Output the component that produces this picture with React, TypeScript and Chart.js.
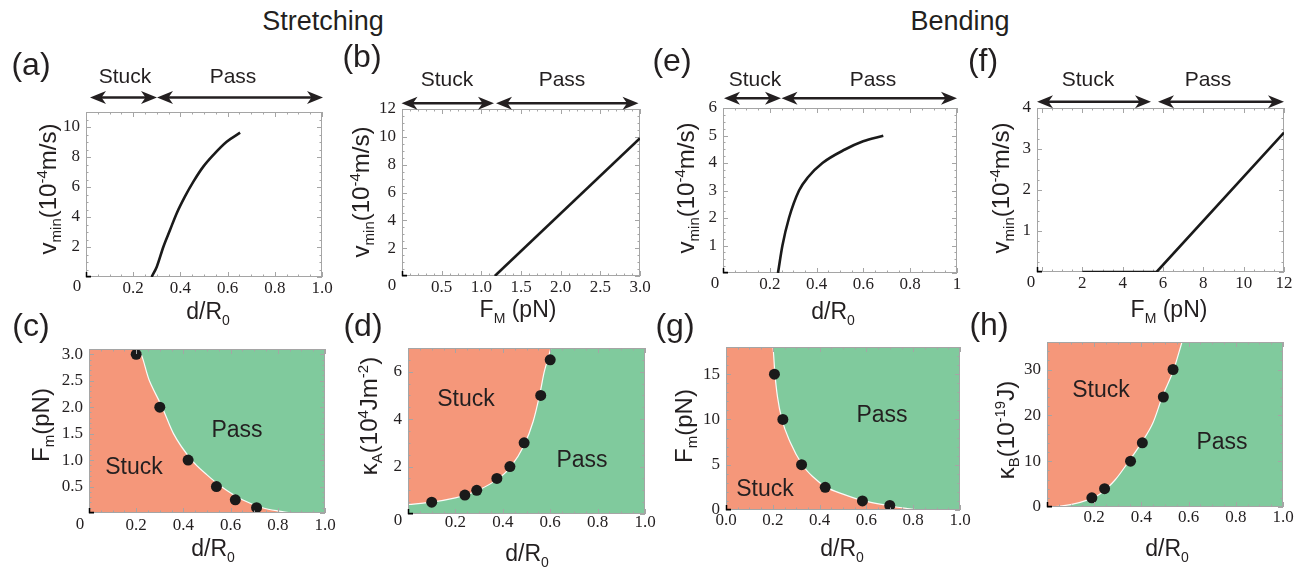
import React, { useEffect, useRef } from "react";
import { Chart, registerables } from "chart.js";
Chart.register(...registerables);

const SALMON = "#F5977A";
const GREEN = "#80CA9D";
const INK = "#231F20";
const FRAME = "#A5A5A5";
const SANS = '"Liberation Sans", Arial, sans-serif';
const SERIF = '"Liberation Serif", "Times New Roman", serif';

// ---------------- data ----------------
// (a) stretching: v_min vs d/R0
const aDist = [0.278, 0.3, 0.328, 0.356, 0.384, 0.419, 0.455, 0.497, 0.539, 0.596, 0.653];
const aVmin = [0, 0.69, 2.02, 3.13, 4.24, 5.36, 6.36, 7.36, 8.13, 9.02, 9.62];
// (b) stretching: v_min vs F_M
const bForce = [1.17, 3.0];
const bVmin = [0, 9.9];
// (e) bending: v_min vs d/R0
const eDist = [0.235, 0.254, 0.282, 0.325, 0.364, 0.425, 0.521, 0.599, 0.685];
const eVmin = [0, 1, 2, 3, 3.49, 4, 4.49, 4.79, 4.99];
// (f) bending: v_min vs F_M
const fForce = [2, 5.68, 12];
const fVmin = [0, 0, 3.4];
// (c) phase diagram F_m vs d/R0
const cDotD = [0.2, 0.3, 0.42, 0.54, 0.62, 0.71];
const cDotF = [3.0, 2.0, 1.0, 0.5, 0.25, 0.1];
const cEdgeD = [0, 0.207, 0.256, 0.31, 0.358, 0.435, 0.5, 0.56, 0.65, 0.735, 0.8, 0.87, 1.0];
const cEdgeF = [3.1, 3.1, 2.5, 2.0, 1.5, 1.0, 0.72, 0.5, 0.25, 0.1, 0.04, 0, 0];
// (d) phase diagram kappa_A vs d/R0
const dDotD = [0.1, 0.24, 0.29, 0.375, 0.43, 0.49, 0.56, 0.6];
const dDotK = [0.5, 0.8, 1.0, 1.5, 2.0, 3.0, 5.0, 6.5];
const dEdgeD = [0, 0.1, 0.2, 0.25, 0.3, 0.375, 0.43, 0.49, 0.528, 0.555, 0.575, 0.589, 0.603];
const dEdgeK = [0.4, 0.5, 0.68, 0.82, 1.02, 1.45, 1.95, 2.9, 3.9, 5.0, 6.0, 6.5, 7.0];
// (g) phase diagram F_m vs d/R0 (bending)
const gDotD = [0.207, 0.243, 0.323, 0.424, 0.583, 0.7];
const gDotF = [15, 10, 5, 2.5, 1.0, 0.5];
const gEdgeD = [0, 0.2, 0.209, 0.22, 0.239, 0.274, 0.326, 0.37, 0.43, 0.5, 0.59, 0.69, 0.77, 0.84, 1.0];
const gEdgeF = [18, 18, 15, 12.5, 10, 7.5, 5, 3.7, 2.5, 1.75, 1.0, 0.5, 0.18, 0, 0];
// (h) phase diagram kappa_B vs d/R0
const hDotD = [0.19, 0.244, 0.354, 0.404, 0.493, 0.534];
const hDotK = [2, 4, 10, 14, 24, 30];
const hEdgeD = [0, 0.05, 0.1, 0.17, 0.226, 0.29, 0.347, 0.4, 0.45, 0.488, 0.537, 0.572];
const hEdgeK = [0, 0.15, 0.5, 1.5, 2.9, 6.0, 10, 14, 18.5, 24, 30, 36];

// tick labels
const dTicks = [0.2, 0.4, 0.6, 0.8, 1.0];
const dTickLabels = ["0.2", "0.4", "0.6", "0.8", "1.0"];
const eTickLabels = ["0.2", "0.4", "0.6", "0.8", "1"];
const gXTicks = [0, 0.2, 0.4, 0.6, 0.8, 1.0];
const gXTickLabels = ["0.0", "0.2", "0.4", "0.6", "0.8", "1.0"];
const bXTicks = [0.5, 1.0, 1.5, 2.0, 2.5, 3.0];
const bXTickLabels = ["0.5", "1.0", "1.5", "2.0", "2.5", "3.0"];
const fXTicks = [2, 4, 6, 8, 10, 12];
const aYTicks = [2, 4, 6, 8, 10];
const bYTicks = [2, 4, 6, 8, 10, 12];
const eYTicks = [1, 2, 3, 4, 5, 6];
const fYTicks = [1, 2, 3, 4];
const cYTicks = [0.5, 1.0, 1.5, 2.0, 2.5, 3.0];
const cYTickLabels = ["0.5", "1.0", "1.5", "2.0", "2.5", "3.0"];
const dYTicks = [2, 4, 6];
const gYTicks = [0, 5, 10, 15];
const hYTicks = [0, 10, 20, 30];

// ---------------- helpers ----------------
type Pt = { x: number; y: number };
const zip = (xs: number[], ys: number[]): Pt[] => xs.map((x, i) => ({ x, y: ys[i] }));
type Rich = [string, "n" | "b" | "p"][];

const curve = (xs: number[], ys: number[], straight = false) => ({
  data: zip(xs, ys),
  borderColor: "#1A1A1A",
  borderWidth: 2.6,
  pointRadius: 0,
  fill: false,
  tension: 0,
  cubicInterpolationMode: straight ? "default" : "monotone",
  order: 1,
});
const dots = (xs: number[], ys: number[]) => ({
  data: zip(xs, ys),
  showLine: false,
  pointRadius: 5.5,
  pointBackgroundColor: "#1A1A1A",
  pointBorderWidth: 0,
  pointBorderColor: "#1A1A1A",
  order: 0,
});
const region = (xs: number[], ys: number[], fill: string) => ({
  data: zip(xs, ys),
  borderColor: "rgba(255,255,255,0.95)",
  borderWidth: 1.2,
  pointRadius: 0,
  fill,
  backgroundColor: SALMON,
  cubicInterpolationMode: "monotone",
  order: 2,
});

interface Arrows {
  y: number;
  stuck: [number, number];
  pass: [number, number];
  stuckText: [number, number];
  passText: [number, number];
}
interface Panel {
  id: string;
  box: [number, number, number, number];
  xRange: [number, number];
  yRange: [number, number];
  xTicks: number[];
  xLabels: string[];
  yTicks: number[];
  yLabels: string[];
  xStep: [number, number];
  yStep: [number, number];
  origin: [number, number] | null;
  letter: [string, number, number];
  xTitle: [Rich, number, number];
  yTitle: [Rich, number, number];
  arrows?: Arrows;
  regions?: { stuck: [number, number]; pass: [number, number] };
  bg?: string;
  tickPad: number;
  datasets: any[];
}

const dR: Rich = [["d/R", "n"], ["0", "b"]];
const vminTitle: Rich = [["v", "n"], ["min", "b"], ["(10", "n"], ["-4", "p"], ["m/s)", "n"]];
const fMTitle: Rich = [["F", "n"], ["M", "b"], [" (pN)", "n"]];
const fmTitle: Rich = [["F", "n"], ["m", "b"], ["(pN)", "n"]];
const kATitle: Rich = [["\u03BA", "n"], ["A", "b"], ["(10", "n"], ["4", "p"], ["Jm", "n"], ["-2", "p"], [")", "n"]];
const kBTitle: Rich = [["\u03BA", "n"], ["B", "b"], ["(10", "n"], ["-19", "p"], ["J)", "n"]];

const PANELS: Panel[] = [
  {
    id: "a", box: [86, 112, 322, 277], xRange: [0, 1], yRange: [0, 11],
    xTicks: dTicks, xLabels: dTickLabels, yTicks: aYTicks, yLabels: aYTicks.map(String),
    xStep: [0.2, 0.05], yStep: [2, 0.5], origin: [77, 287], letter: ["(a)", 31, 66],
    xTitle: [dR, 208, 311], yTitle: [vminTitle, 47, 189],
    arrows: { y: 97.5, stuck: [90, 157], pass: [157, 323], stuckText: [125, 77], passText: [233, 77] },
    tickPad: 1,
    datasets: [curve(aDist, aVmin)],
  },
  {
    id: "b", box: [402, 109, 640, 276], xRange: [0, 3], yRange: [0, 12],
    xTicks: bXTicks, xLabels: bXTickLabels, yTicks: bYTicks, yLabels: bYTicks.map(String),
    xStep: [0.5, 0.1], yStep: [2, 0.5], origin: [392, 286], letter: ["(b)", 362, 58],
    xTitle: [fMTitle, 518, 309], yTitle: [vminTitle, 360, 192],
    arrows: { y: 103.3, stuck: [401.5, 494], pass: [496, 638.5], stuckText: [447, 80], passText: [562, 80] },
    tickPad: 1,
    datasets: [curve(bForce, bVmin, true)],
  },
  {
    id: "e", box: [723, 108, 957, 273], xRange: [0, 1], yRange: [0, 6],
    xTicks: dTicks, xLabels: eTickLabels, yTicks: eYTicks, yLabels: eYTicks.map(String),
    xStep: [0.2, 0.05], yStep: [1, 0.25], origin: [715, 284], letter: ["(e)", 672, 62],
    xTitle: [dR, 833, 311], yTitle: [vminTitle, 685, 188],
    arrows: { y: 98.3, stuck: [724, 781], pass: [781.5, 957], stuckText: [755, 80], passText: [873, 80] },
    tickPad: 1,
    datasets: [curve(eDist, eVmin)],
  },
  {
    id: "f", box: [1037, 108, 1284, 272], xRange: [-0.25, 12], yRange: [0, 4],
    xTicks: fXTicks, xLabels: fXTicks.map(String), yTicks: fYTicks, yLabels: fYTicks.map(String),
    xStep: [2, 0.5], yStep: [1, 0.25], origin: [1031, 283], letter: ["(f)", 983, 62],
    xTitle: [fMTitle, 1169, 309], yTitle: [vminTitle, 1000, 188],
    arrows: { y: 101.7, stuck: [1037, 1151], pass: [1158, 1284], stuckText: [1088, 80], passText: [1208, 80] },
    tickPad: 1,
    datasets: [curve(fForce, fVmin, true)],
  },
  {
    id: "c", box: [89, 349, 325, 513], xRange: [0, 1], yRange: [0, 3.1],
    xTicks: dTicks, xLabels: dTickLabels, yTicks: cYTicks, yLabels: cYTickLabels,
    xStep: [0.2, 0.05], yStep: [0.5, 0.1], origin: [80, 525], letter: ["(c)", 31, 327],
    xTitle: [dR, 213, 548], yTitle: [fmTitle, 40, 425],
    regions: { stuck: [134, 468], pass: [237, 431] }, bg: GREEN,
    tickPad: 2,
    datasets: [dots(cDotD, cDotF), region(cEdgeD, cEdgeF, "start")],
  },
  {
    id: "d", box: [408, 348, 645, 514], xRange: [0, 1], yRange: [0, 7],
    xTicks: dTicks, xLabels: dTickLabels, yTicks: dYTicks, yLabels: dYTicks.map(String),
    xStep: [0.2, 0.05], yStep: [2, 0.5], origin: [398, 521], letter: ["(d)", 363, 327],
    xTitle: [dR, 527, 553], yTitle: [kATitle, 368, 416],
    regions: { stuck: [466, 400], pass: [582, 461] }, bg: GREEN,
    tickPad: -2,
    datasets: [dots(dDotD, dDotK), region(dEdgeD, dEdgeK, "end")],
  },
  {
    id: "g", box: [726, 347, 960, 510], xRange: [0, 1], yRange: [0, 18],
    xTicks: gXTicks, xLabels: gXTickLabels, yTicks: gYTicks, yLabels: gYTicks.map(String),
    xStep: [0.2, 0.05], yStep: [5, 1], origin: null, letter: ["(g)", 675, 327],
    xTitle: [dR, 842, 548], yTitle: [fmTitle, 683, 426],
    regions: { stuck: [765, 490], pass: [882, 416] }, bg: GREEN,
    tickPad: 0,
    datasets: [dots(gDotD, gDotF), region(gEdgeD, gEdgeF, "start")],
  },
  {
    id: "h", box: [1047, 342, 1283, 507], xRange: [0, 1], yRange: [0, 36],
    xTicks: dTicks, xLabels: dTickLabels, yTicks: hYTicks, yLabels: hYTicks.map(String),
    xStep: [0.2, 0.05], yStep: [10, 2], origin: null, letter: ["(h)", 989, 326],
    xTitle: [dR, 1167, 548], yTitle: [kBTitle, 1005, 430],
    regions: { stuck: [1101, 391], pass: [1222, 443] }, bg: GREEN,
    tickPad: 0,
    datasets: [dots(hDotD, hDotK), region(hEdgeD, hEdgeK, "end")],
  },
];

const PADL = 95, PADT = 75, PADR = 20, PADB = 55;

function drawRich(ctx: CanvasRenderingContext2D, parts: Rich, cx: number, cy: number, size: number, rot: number) {
  ctx.save();
  ctx.translate(cx, cy);
  ctx.rotate(rot);
  const fontFor = (k: string) => `${k === "n" ? size : Math.round(size * 0.62)}px ${SANS}`;
  const widths = parts.map(([t, k]) => {
    ctx.font = fontFor(k);
    return ctx.measureText(t).width;
  });
  const total = widths.reduce((a, b) => a + b, 0);
  let x = -total / 2;
  ctx.textAlign = "left";
  ctx.textBaseline = "alphabetic";
  ctx.fillStyle = INK;
  const base = size * 0.36;
  parts.forEach(([t, k], i) => {
    ctx.font = fontFor(k);
    const dy = k === "b" ? size * 0.24 : k === "p" ? -size * 0.38 : 0;
    ctx.fillText(t, x, base + dy);
    x += widths[i];
  });
  ctx.restore();
}

function arrowHead(ctx: CanvasRenderingContext2D, x: number, y: number, dir: number) {
  const L = 16, W = 6.5, N = 4.5;
  ctx.beginPath();
  ctx.moveTo(x, y);
  ctx.lineTo(x - dir * L, y - W);
  ctx.lineTo(x - dir * (L - N), y);
  ctx.lineTo(x - dir * L, y + W);
  ctx.closePath();
  ctx.fill();
}

function dblArrow(ctx: CanvasRenderingContext2D, x1: number, x2: number, y: number) {
  ctx.strokeStyle = INK;
  ctx.fillStyle = INK;
  ctx.lineWidth = 2.6;
  ctx.beginPath();
  ctx.moveTo(x1 + 8, y);
  ctx.lineTo(x2 - 8, y);
  ctx.stroke();
  arrowHead(ctx, x1, y, -1);
  arrowHead(ctx, x2, y, 1);
}

function stepsIn(min: number, max: number, step: number): number[] {
  const out: number[] = [];
  const start = Math.ceil(min / step - 1e-9) * step;
  for (let v = start; v <= max + 1e-9; v += step) out.push(Math.round(v * 1e6) / 1e6);
  return out;
}

function drawFrame(p: Panel, chart: any) {
  const ctx: CanvasRenderingContext2D = chart.ctx;
  const { left, top, right, bottom } = chart.chartArea;
  const xs = chart.scales.x, ys = chart.scales.y;
  ctx.save();
  ctx.strokeStyle = FRAME;
  ctx.lineWidth = 1;
  const drawX = (step: number, len: number) => {
    stepsIn(p.xRange[0], p.xRange[1], step).forEach((v) => {
      const px = Math.round(xs.getPixelForValue(v)) + 0.5;
      ctx.beginPath();
      ctx.moveTo(px, bottom); ctx.lineTo(px, bottom - len);
      ctx.moveTo(px, top); ctx.lineTo(px, top + len);
      ctx.stroke();
    });
  };
  const drawY = (step: number, len: number) => {
    stepsIn(p.yRange[0], p.yRange[1], step).forEach((v) => {
      const py = Math.round(ys.getPixelForValue(v)) + 0.5;
      ctx.beginPath();
      ctx.moveTo(left, py); ctx.lineTo(left + len, py);
      ctx.moveTo(right, py); ctx.lineTo(right - len, py);
      ctx.stroke();
    });
  };
  drawX(p.xStep[1], 2.5); drawX(p.xStep[0], 5);
  drawY(p.yStep[1], 2.5); drawY(p.yStep[0], 5);
  ctx.strokeRect(left + 0.5, top + 0.5, right - left - 1, bottom - top - 1);
  ctx.strokeStyle = "#000";
  ctx.lineWidth = 1.5;
  ctx.beginPath();
  ctx.moveTo(left + 0.5, bottom - 5); ctx.lineTo(left + 0.5, bottom - 0.5); ctx.lineTo(left + 5, bottom - 0.5);
  ctx.stroke();
  ctx.restore();
}

function makeDecor(p: Panel, ox: number, oy: number) {
  return {
    id: "decor_" + p.id,
    beforeDraw(chart: any) {
      if (!p.bg) return;
      const { left, top, right, bottom } = chart.chartArea;
      const ctx = chart.ctx;
      ctx.save();
      ctx.fillStyle = p.bg;
      ctx.fillRect(left, top, right - left, bottom - top);
      ctx.restore();
    },
    beforeDatasetsDraw(chart: any) {
      if (!p.bg) drawFrame(p, chart);
    },
    afterDatasetsDraw(chart: any) {
      if (p.bg) drawFrame(p, chart);
    },
    afterDraw(chart: any) {
      const ctx: CanvasRenderingContext2D = chart.ctx;
      ctx.save();
      ctx.translate(-ox, -oy);
      ctx.fillStyle = INK;
      if (p.origin) {
        ctx.font = `17px ${SERIF}`;
        ctx.textAlign = "center";
        ctx.textBaseline = "middle";
        ctx.fillText("0", p.origin[0], p.origin[1]);
      }
      ctx.font = `32px ${SANS}`;
      ctx.textAlign = "center";
      ctx.textBaseline = "middle";
      ctx.fillText(p.letter[0], p.letter[1], p.letter[2]);
      drawRich(ctx, p.xTitle[0], p.xTitle[1], p.xTitle[2], 23, 0);
      drawRich(ctx, p.yTitle[0], p.yTitle[1], p.yTitle[2], 24, -Math.PI / 2);
      if (p.arrows) {
        const a = p.arrows;
        dblArrow(ctx, a.stuck[0], a.stuck[1], a.y);
        dblArrow(ctx, a.pass[0], a.pass[1], a.y);
        ctx.fillStyle = INK;
        ctx.font = `21px ${SANS}`;
        ctx.textAlign = "center";
        ctx.textBaseline = "middle";
        ctx.fillText("Stuck", a.stuckText[0], a.stuckText[1]);
        ctx.fillText("Pass", a.passText[0], a.passText[1]);
      }
      if (p.regions) {
        ctx.fillStyle = INK;
        ctx.font = `23px ${SANS}`;
        ctx.textAlign = "center";
        ctx.textBaseline = "middle";
        ctx.fillText("Stuck", p.regions.stuck[0], p.regions.stuck[1]);
        ctx.fillText("Pass", p.regions.pass[0], p.regions.pass[1]);
      }
      ctx.restore();
    },
  };
}

function PanelChart({ p }: { p: Panel }) {
  const ref = useRef<HTMLCanvasElement>(null);
  const [l, t, r, b] = p.box;
  const W = r - l + PADL + PADR;
  const H = b - t + PADT + PADB;
  const ox = l - PADL;
  const oy = t - PADT;
  useEffect(() => {
    const tickFont = { family: SERIF, size: 17 };
    const chart = new Chart(ref.current as HTMLCanvasElement, {
      type: "line",
      data: { datasets: p.datasets },
      options: {
        animation: false,
        responsive: false,
        maintainAspectRatio: false,
        layout: { autoPadding: false, padding: { left: 0, top: PADT, right: PADR, bottom: 0 } },
        plugins: { legend: { display: false }, tooltip: { enabled: false } },
        scales: {
          x: {
            type: "linear",
            min: p.xRange[0],
            max: p.xRange[1],
            grid: { display: false, drawTicks: false },
            border: { display: false },
            ticks: {
              font: tickFont,
              color: INK,
              padding: p.tickPad,
              maxRotation: 0,
              autoSkip: false,
              callback: (_v: any, i: number) => p.xLabels[i],
            },
            afterBuildTicks: (s: any) => {
              s.ticks = p.xTicks.map((v) => ({ value: v }));
            },
            afterFit: (s: any) => {
              s.height = PADB;
            },
          },
          y: {
            type: "linear",
            min: p.yRange[0],
            max: p.yRange[1],
            grid: { display: false, drawTicks: false },
            border: { display: false },
            ticks: {
              font: tickFont,
              color: INK,
              padding: 6,
              autoSkip: false,
              callback: (_v: any, i: number) => p.yLabels[i],
            },
            afterBuildTicks: (s: any) => {
              s.ticks = p.yTicks.map((v) => ({ value: v }));
            },
            afterFit: (s: any) => {
              s.width = PADL;
            },
          },
        },
      } as any,
      plugins: [makeDecor(p, ox, oy)],
    });
    return () => chart.destroy();
  }, []);
  return (
    <canvas
      ref={ref}
      width={W}
      height={H}
      style={{ position: "absolute", left: ox, top: oy, width: W, height: H }}
    />
  );
}

const titleStyle = (x: number): React.CSSProperties => ({
  position: "absolute",
  left: x,
  top: 21,
  transform: "translate(-50%, -50%)",
  font: `27px ${SANS}`,
  color: INK,
  whiteSpace: "nowrap",
  lineHeight: "32px",
});

export default function App() {
  return (
    <div
      style={{
        position: "absolute",
        left: 0,
        top: 0,
        width: 1306,
        height: 569,
        background: "#fff",
        overflow: "hidden",
      }}
    >
      <div style={titleStyle(323)}>Stretching</div>
      <div style={titleStyle(960)}>Bending</div>
      {PANELS.map((p) => (
        <PanelChart key={p.id} p={p} />
      ))}
    </div>
  );
}
